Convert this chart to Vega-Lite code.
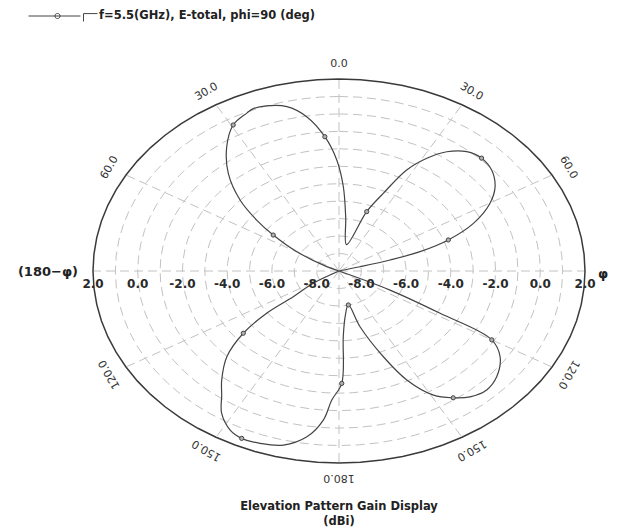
{
  "$schema": "https://vega.github.io/schema/vega-lite/v6.json",
  "width": 492,
  "height": 384,
  "autosize": "none",
  "padding": {"left": 93, "top": 79, "right": 38, "bottom": 66},
  "background": "white",
  "config": {"view": {"stroke": null}, "font": "DejaVu Sans"},
  "title": {
    "text": ["Elevation Pattern Gain Display", "(dBi)"],
    "orient": "bottom",
    "anchor": "middle",
    "font": "DejaVu Sans",
    "fontSize": 11.5,
    "fontWeight": "bold",
    "color": "#222",
    "offset": 17,
    "lineHeight": 15
  },
  "datasets": {
    "rings": [
      {
        "g": [-8, -7, -6, -5, -4, -3, -2, -1, 0, 1, 2],
        "deg": [0,5,10,15,20,25,30,35,40,45,50,55,60,65,70,75,80,85,90,95,100,105,110,115,120,125,130,135,140,145,150,155,160,165,170,175,180,185,190,195,200,205,210,215,220,225,230,235,240,245,250,255,260,265,270,275,280,285,290,295,300,305,310,315,320,325,330,335,340,345,350,355,360]
      }
    ],
    "spokes": [
      {"deg": [0, 30, 60, 90, 120, 150, 180, 210, 240, 270, 300, 330], "g": [-9, 2]}
    ],
    "curve": [
      {"deg": -90, "gain": -9.5},
      {"deg": -70, "gain": -9},
      {"deg": -65.6, "gain": -8.4},
      {"deg": -59.6, "gain": -6.8},
      {"deg": -55, "gain": -5.41},
      {"deg": -51.6, "gain": -4.3},
      {"deg": -47.4, "gain": -2.99},
      {"deg": -41.5, "gain": -1.53},
      {"deg": -35.2, "gain": -0.29},
      {"deg": -29.5, "gain": 0.61},
      {"deg": -24.5, "gain": 0.94},
      {"deg": -22.4, "gain": 1.06},
      {"deg": -18.9, "gain": 1.0},
      {"deg": -13.9, "gain": 0.7},
      {"deg": -9.3, "gain": -0.04},
      {"deg": -4.7, "gain": -1.28},
      {"deg": -0.9, "gain": -2.64},
      {"deg": 2.3, "gain": -4.17},
      {"deg": 5.5, "gain": -5.88},
      {"deg": 12.5, "gain": -7.45},
      {"deg": 20, "gain": -5.38},
      {"deg": 24, "gain": -4.13},
      {"deg": 27.6, "gain": -2.47},
      {"deg": 31.3, "gain": -1.44},
      {"deg": 35.2, "gain": -0.64},
      {"deg": 39.9, "gain": -0.09},
      {"deg": 44.6, "gain": 0.08},
      {"deg": 49.7, "gain": -0.05},
      {"deg": 55.3, "gain": -0.51},
      {"deg": 60.1, "gain": -1.21},
      {"deg": 65.6, "gain": -2.4},
      {"deg": 70, "gain": -3.8},
      {"deg": 73, "gain": -5.21},
      {"deg": 74.6, "gain": -6.63},
      {"deg": 75.5, "gain": -8.03},
      {"deg": 77, "gain": -9},
      {"deg": 90, "gain": -9.5},
      {"deg": 112, "gain": -9},
      {"deg": 115.6, "gain": -6.47},
      {"deg": 118.2, "gain": -3.87},
      {"deg": 120, "gain": -1.11},
      {"deg": 124.3, "gain": -0.28},
      {"deg": 130.7, "gain": 0.3},
      {"deg": 135.9, "gain": 0.49},
      {"deg": 140.9, "gain": 0.29},
      {"deg": 144.9, "gain": -0.12},
      {"deg": 149.3, "gain": -0.73},
      {"deg": 154.1, "gain": -2.06},
      {"deg": 158, "gain": -3.7},
      {"deg": 163.6, "gain": -5.67},
      {"deg": 167.9, "gain": -7.01},
      {"deg": 174, "gain": -6.37},
      {"deg": 177.1, "gain": -5.23},
      {"deg": 178.9, "gain": -2.56},
      {"deg": 182.5, "gain": -1.6},
      {"deg": 184.7, "gain": -0.43},
      {"deg": 188.6, "gain": 0.61},
      {"deg": 194, "gain": 1.28},
      {"deg": 199.7, "gain": 1.49},
      {"deg": 204.4, "gain": 1.53},
      {"deg": 208.1, "gain": 1.33},
      {"deg": 212.8, "gain": 0.69},
      {"deg": 216.4, "gain": -0.16},
      {"deg": 220, "gain": -0.84},
      {"deg": 225.6, "gain": -1.98},
      {"deg": 230.2, "gain": -3.43},
      {"deg": 233.2, "gain": -4.96},
      {"deg": 234.2, "gain": -6.48},
      {"deg": 238.7, "gain": -7.65},
      {"deg": 245, "gain": -9},
      {"deg": 270, "gain": -9.5}
    ],
    "markers": [
      {"deg": -55, "gain": -5.41},
      {"deg": -29.5, "gain": 0.61},
      {"deg": -4.7, "gain": -1.28},
      {"deg": 20, "gain": -5.38},
      {"deg": 44.6, "gain": 0.08},
      {"deg": 70, "gain": -3.8},
      {"deg": 120, "gain": -1.11},
      {"deg": 144.9, "gain": -0.12},
      {"deg": 167.9, "gain": -7.01},
      {"deg": 178.9, "gain": -2.56},
      {"deg": 204.4, "gain": 1.53},
      {"deg": 230.2, "gain": -3.43}
    ],
    "angleLabels": [
      {"deg": 0, "label": "0.0"},
      {"deg": 30, "label": "30.0"},
      {"deg": 60, "label": "60.0"},
      {"deg": 120, "label": "120.0"},
      {"deg": 150, "label": "150.0"},
      {"deg": 180, "label": "180.0"},
      {"deg": 210, "label": "150.0"},
      {"deg": 240, "label": "120.0"},
      {"deg": 300, "label": "60.0"},
      {"deg": 330, "label": "30.0"}
    ],
    "gainLabels": [
      {"g": 2, "label": "2.0", "side": [-1, 1]},
      {"g": 0, "label": "0.0", "side": [-1, 1]},
      {"g": -2, "label": "-2.0", "side": [-1, 1]},
      {"g": -4, "label": "-4.0", "side": [-1, 1]},
      {"g": -6, "label": "-6.0", "side": [-1, 1]},
      {"g": -8, "label": "-8.0", "side": [-1, 1]}
    ]
  },
  "encoding": {
    "x": {"field": "x", "type": "quantitative", "scale": {"domain": [-11, 11], "nice": false, "zero": false}, "axis": null},
    "y": {"field": "y", "type": "quantitative", "scale": {"domain": [-11, 11], "nice": false, "zero": false}, "axis": null}
  },
  "layer": [
    {
      "data": {"name": "rings"},
      "transform": [
        {"flatten": ["g"]},
        {"flatten": ["deg"]},
        {"filter": "datum.g < 2"},
        {"calculate": "(datum.g + 9) * sin(datum.deg * PI / 180)", "as": "x"},
        {"calculate": "(datum.g + 9) * cos(datum.deg * PI / 180)", "as": "y"}
      ],
      "mark": {"type": "line", "stroke": "#c2c2c2", "strokeWidth": 1, "strokeDash": [9, 5]},
      "encoding": {"detail": {"field": "g"}, "order": {"field": "deg", "type": "quantitative"}}
    },
    {
      "data": {"name": "spokes"},
      "transform": [
        {"flatten": ["deg"]},
        {"flatten": ["g"]},
        {"calculate": "(datum.g + 9) * sin(datum.deg * PI / 180)", "as": "x"},
        {"calculate": "(datum.g + 9) * cos(datum.deg * PI / 180)", "as": "y"}
      ],
      "mark": {"type": "line", "stroke": "#c2c2c2", "strokeWidth": 1, "strokeDash": [9, 5]},
      "encoding": {"detail": {"field": "deg"}, "order": {"field": "g", "type": "quantitative"}}
    },
    {
      "data": {"name": "rings"},
      "transform": [
        {"flatten": ["g"]},
        {"flatten": ["deg"]},
        {"filter": "datum.g == 2"},
        {"calculate": "(datum.g + 9) * sin(datum.deg * PI / 180)", "as": "x"},
        {"calculate": "(datum.g + 9) * cos(datum.deg * PI / 180)", "as": "y"}
      ],
      "mark": {"type": "line", "stroke": "#3a3a3a", "strokeWidth": 1.5},
      "encoding": {"detail": {"field": "g"}, "order": {"field": "deg", "type": "quantitative"}}
    },
    {
      "data": {"name": "curve"},
      "transform": [
        {"calculate": "max(0, datum.gain + 9)", "as": "r"},
        {"calculate": "datum.r * sin(datum.deg * PI / 180)", "as": "x"},
        {"calculate": "datum.r * cos(datum.deg * PI / 180)", "as": "y"}
      ],
      "mark": {"type": "line", "strokeWidth": 1.2, "interpolate": "catmull-rom"},
      "encoding": {
        "order": {"field": "deg", "type": "quantitative"},
        "color": {
          "datum": "f=5.5(GHz), E-total, phi=90 (deg)",
          "scale": {"range": ["#444444"]},
          "legend": {
            "orient": "none",
            "legendX": -65,
            "legendY": -98,
            "title": null,
            "padding": 0,
            "symbolType": "M-1,0 L0.507,0 M-0.085,0 A0.075,0.075 0 1 1 -0.235,0 A0.075,0.075 0 1 1 -0.085,0 M0.594,0.16 L0.594,-0.07 L1,-0.07",
            "symbolSize": 4761,
            "symbolStrokeWidth": 1,
            "symbolFillColor": "transparent",
            "labelFont": "DejaVu Sans",
            "labelFontSize": 11.5,
            "labelFontWeight": "bold",
            "labelColor": "#222",
            "labelOffset": 1,
            "labelLimit": 0
          }
        }
      }
    },
    {
      "data": {"name": "markers"},
      "transform": [
        {"calculate": "max(0, datum.gain + 9)", "as": "r"},
        {"calculate": "datum.r * sin(datum.deg * PI / 180)", "as": "x"},
        {"calculate": "datum.r * cos(datum.deg * PI / 180)", "as": "y"}
      ],
      "mark": {"type": "point", "shape": "circle", "size": 18, "filled": true, "fill": "#b0b0b0", "stroke": "#444", "strokeWidth": 1, "opacity": 1}
    },
    {
      "data": {"name": "gainLabels"},
      "transform": [
        {"flatten": ["side"]},
        {"calculate": "datum.side * (datum.g + 9)", "as": "x"},
        {"calculate": "0", "as": "y"}
      ],
      "mark": {"type": "text", "font": "DejaVu Sans", "fontSize": 12, "fontWeight": "bold", "color": "#2a2a2a", "align": "center", "baseline": "middle", "dy": 13},
      "encoding": {"text": {"field": "label"}}
    },
    {
      "data": {"name": "angleLabels"},
      "transform": [
        {"calculate": "11.85 * sin(datum.deg * PI / 180)", "as": "x"},
        {"calculate": "11.85 * cos(datum.deg * PI / 180)", "as": "y"}
      ],
      "mark": {"type": "text", "font": "DejaVu Sans", "fontSize": 11, "color": "#333", "align": "center", "baseline": "middle"},
      "encoding": {
        "text": {"field": "label"},
        "angle": {"field": "deg", "type": "quantitative", "scale": null}
      }
    },
    {
      "data": {"values": [{"x": -11, "y": 0, "label": "(180−φ)"}]},
      "mark": {"type": "text", "font": "DejaVu Sans", "fontSize": 13, "fontWeight": "bold", "color": "#222", "align": "right", "baseline": "middle", "dx": -15, "dy": 1},
      "encoding": {"text": {"field": "label"}}
    },
    {
      "data": {"values": [{"x": 11, "y": 0, "label": "φ"}]},
      "mark": {"type": "text", "font": "DejaVu Sans", "fontSize": 13, "fontWeight": "bold", "color": "#222", "align": "left", "baseline": "middle", "dx": 13, "dy": 3},
      "encoding": {"text": {"field": "label"}}
    }
  ]
}
